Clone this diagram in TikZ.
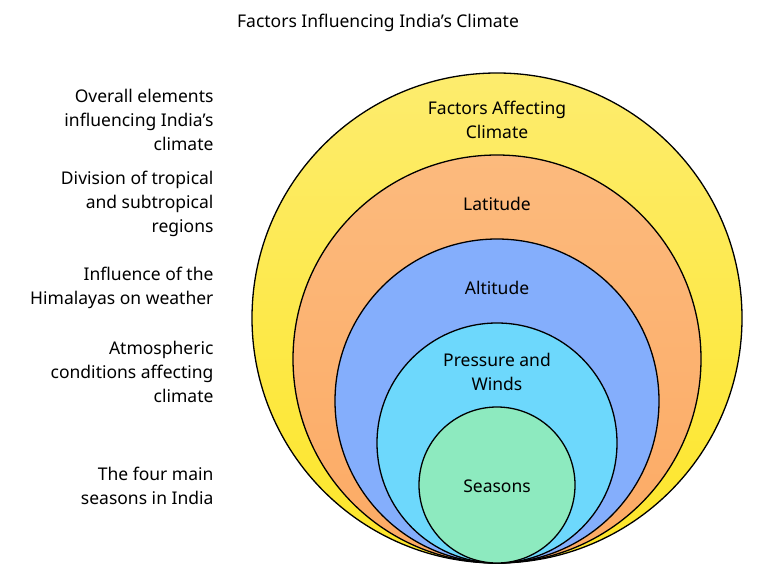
\documentclass[tikz,border=0pt]{standalone}
\usepackage{fontspec}
\setmainfont{Noto Sans}
\begin{document}
\begin{tikzpicture}[x=1pt,y=-1pt,
  ring/.style={draw=black,line width=1.3pt},
  lbl/.style={font=\fontsize{17.5}{24}\selectfont,align=center},
  side/.style={font=\fontsize{17.5}{24}\selectfont,align=right,anchor=east}]
\useasboundingbox (0,0) rectangle (757,578);
\shade[top color={rgb,255:red,253;green,236;blue,110},bottom color={rgb,255:red,253;green,230;blue,40}] (497,318) circle (245);
\draw[ring] (497,318) circle (245);
\shade[top color={rgb,255:red,252;green,186;blue,125},bottom color={rgb,255:red,252;green,170;blue,100}] (497,359) circle (204);
\draw[ring] (497,359) circle (204);
\fill[fill={rgb,255:red,132;green,174;blue,252}] (497,401) circle (162);
\draw[ring] (497,401) circle (162);
\fill[fill={rgb,255:red,109;green,216;blue,252}] (497,443) circle (120);
\draw[ring] (497,443) circle (120);
\fill[fill={rgb,255:red,141;green,234;blue,191}] (497,485) circle (78);
\draw[ring] (497,485) circle (78);
\node[lbl] (t) at (378,23) {Factors Influencing India's Climate};
\node[lbl] (f) at (497,120) {Factors Affecting\\Climate};
\node[lbl] (l) at (497,204) {Latitude};
\node[lbl] (a) at (497,288) {Altitude};
\node[lbl] (p) at (497,372) {Pressure and\\Winds};
\node[lbl] (s) at (497,486) {Seasons};
\node[side] (d1) at (217,120) {Overall elements\\influencing India's\\climate};
\node[side] (d2) at (217,204) {Division of tropical\\and subtropical\\regions};
\node[side] (d3) at (217,288) {Influence of the\\Himalayas on weather};
\node[side] (d4) at (217,372) {Atmospheric\\conditions affecting\\climate};
\node[side] (d5) at (217,486) {The four main\\seasons in India};
\end{tikzpicture}
\end{document}
